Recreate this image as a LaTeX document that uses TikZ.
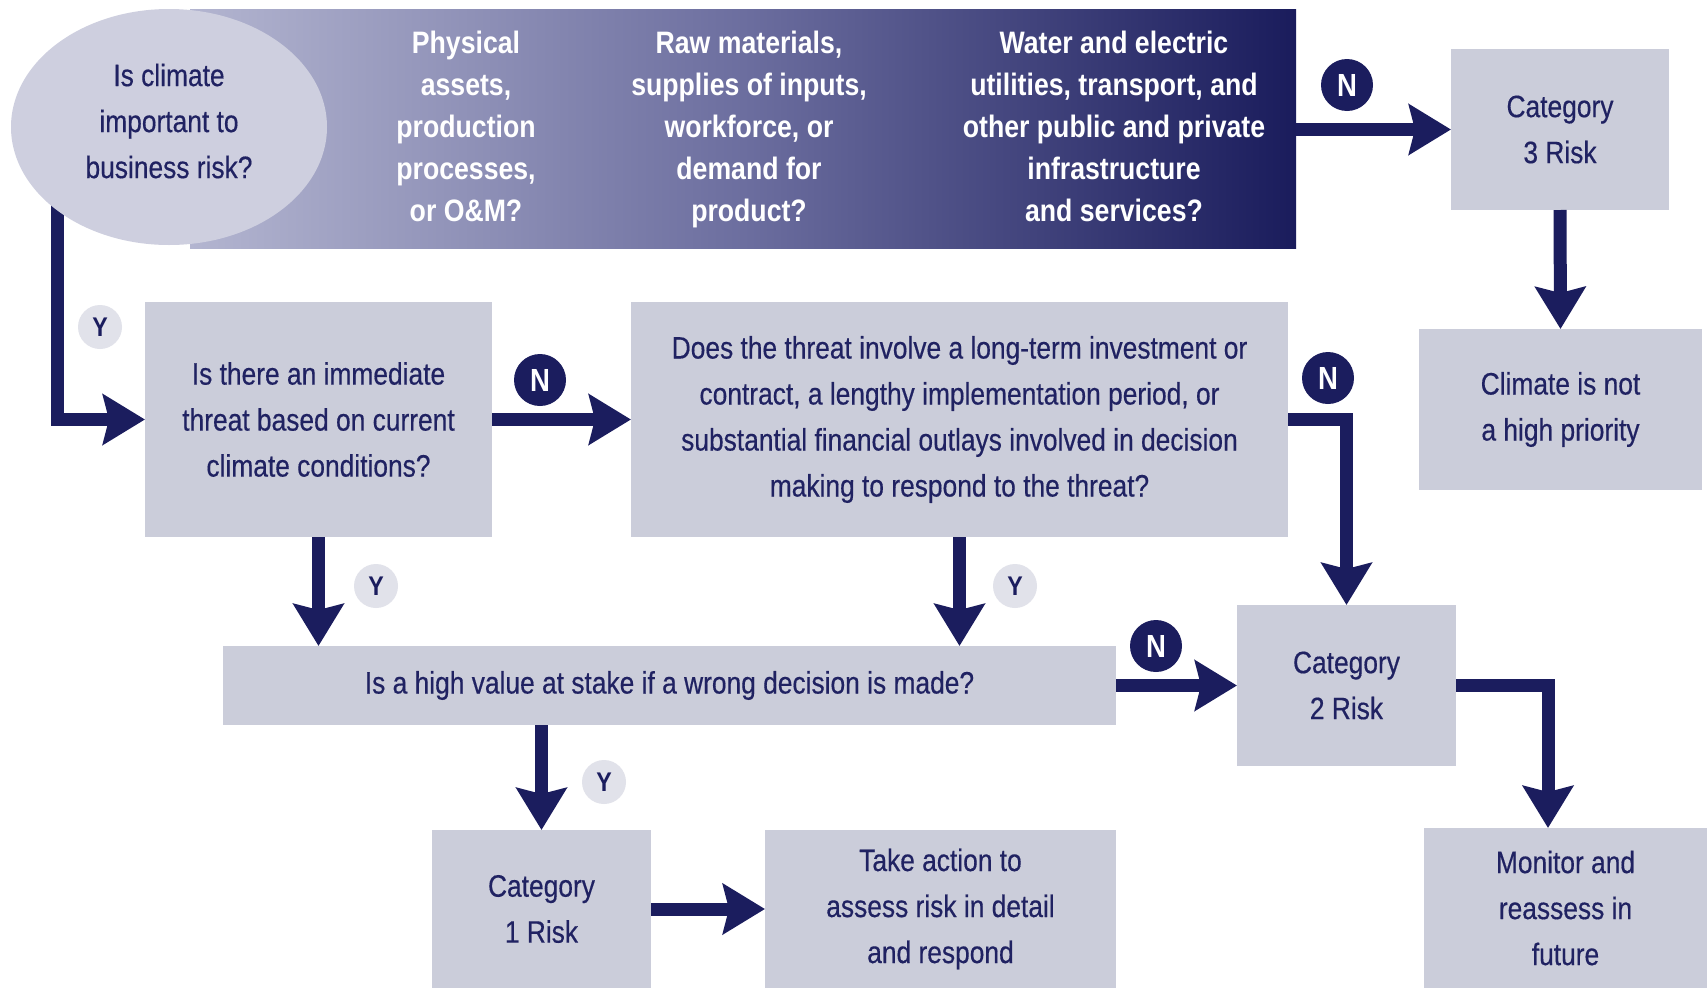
\documentclass[tikz,border=0pt]{standalone}
\usepackage{fontspec}
\setmainfont{Liberation Sans}[FakeStretch=0.86]
\newfontfamily\boxfont{Liberation Sans}[FakeStretch=0.85, FakeBold=0.4]
\usetikzlibrary{shapes.geometric,arrows.meta}
\definecolor{navy}{HTML}{1B1D5E}
\definecolor{boxgray}{HTML}{CBCDDA}
\definecolor{txt}{HTML}{202262}
\definecolor{ygray}{HTML}{E1E2EA}
\definecolor{ellfill}{HTML}{CECFDF}
\definecolor{bannerL}{HTML}{B3B5D0}
\definecolor{bannerM}{HTML}{6C6E9F}
\definecolor{bannerR}{HTML}{1A1C5C}
\pgfdeclarelayer{bg}
\pgfsetlayers{bg,main}
\begin{document}
\begin{tikzpicture}[x=1pt,y=-1pt,
  box/.style={fill=boxgray, text=txt, align=center, inner sep=0pt, outer sep=0pt,
    font=\boxfont\fontsize{31}{46}\selectfont},
  btext/.style={text=white, align=center, inner sep=0pt,
    font=\fontsize{31}{42}\selectfont\bfseries},
  conn/.style={draw=navy, line width=13pt, line join=miter,
    -{Stealth[length=42pt,width=50pt,inset=6pt]}},
  nlab/.style={circle, fill=navy, text=white, inner sep=0pt, minimum size=52pt,
    font=\fontsize{32}{32}\selectfont\bfseries},
  ylab/.style={circle, fill=ygray, text=navy, inner sep=0pt, minimum size=44pt,
    font=\fontsize{27}{27}\selectfont\bfseries}
]
\useasboundingbox (0,0) rectangle (1707,988);

% background and banner
\begin{pgfonlayer}{bg}
\fill[white] (0,0) rectangle (1707,988);
\node[inner sep=0pt, outer sep=0pt, minimum width=1106pt, minimum height=239pt,
  left color=bannerL, right color=bannerR, middle color=bannerM] (banner) at (743,128.5) {};
\end{pgfonlayer}
\node[btext] (bt1) at (466,126) {Physical\\assets,\\production\\processes,\\or O\&M?};
\node[btext] (bt2) at (749,129) {Raw materials,\\supplies of inputs,\\workforce, or\\demand for\\product?};
\node[btext] (bt3) at (1114,126) {Water and electric\\utilities, transport, and\\other public and private\\infrastructure\\and services?};

% ellipse
\node[ellipse, fill=ellfill, inner sep=0pt, outer sep=0pt,
  minimum width=316pt, minimum height=236pt] (ell) at (169,127) {};
\node[text=txt, align=center, inner sep=0pt, font=\boxfont\fontsize{31}{46}\selectfont]
  (elltext) at (169,121) {Is climate\\important to\\business risk?};

% boxes
\node[box, minimum width=218pt, minimum height=161pt] (cat3) at (1560,129.5) {Category\\3 Risk};
\node[box, minimum width=283pt, minimum height=161pt] (clim) at (1560.5,409.5) {Climate is not\\a high priority};
\node[box, minimum width=347pt, minimum height=235pt] (q1) at (318.5,419.5) {Is there an immediate\\threat based on current\\climate conditions?};
\node[box, minimum width=657pt, minimum height=235pt] (q2) at (959.5,419.5) {Does the threat involve a long-term investment or\\contract, a lengthy implementation period, or\\substantial financial outlays involved in decision\\making to respond to the threat?};
\node[box, minimum width=893pt, minimum height=79pt] (bar) at (669.5,685.5) {Is a high value at stake if a wrong decision is made?};
\node[box, minimum width=219pt, minimum height=161pt] (cat2) at (1346.5,685.5) {Category\\2 Risk};
\node[box, minimum width=219pt, minimum height=158pt] (cat1) at (541.5,909) {Category\\1 Risk};
\node[box, minimum width=351pt, minimum height=158pt] (take) at (940.5,909) {Take action to\\assess risk in detail\\and respond};
\node[box, minimum width=283pt, minimum height=160pt] (mon) at (1565.5,908) {Monitor and\\reassess in\\future};
\coordinate (monin) at (1548,828);

% connectors
\begin{pgfonlayer}{bg}
\draw[conn] ([yshift=15pt]ell.south west) |- (q1.west);
\end{pgfonlayer}
\draw[conn] (banner.east |- cat3.west) -- (cat3.west);
\draw[conn] (cat3.south) -- (clim.north);
\draw[conn] (q1.east) -- (q2.west);
\draw[conn] (q2.east) -| (cat2.north);
\draw[conn] (q1.south) -- (q1.south |- bar.north);
\draw[conn] (q2.south) -- (q2.south |- bar.north);
\draw[conn] (bar.east) -- (cat2.west);
\draw[conn] (cat1.north |- bar.south) -- (cat1.north);
\draw[conn] (cat1.east) -- (take.west);
\draw[conn] (cat2.east) -| (monin);

% labels
\node[nlab] (n1) at (1347,85) {N};
\node[nlab] (n2) at (540,380) {N};
\node[nlab] (n3) at (1328,378) {N};
\node[nlab] (n4) at (1156,646) {N};
\node[ylab] (y1) at (100,327) {Y};
\node[ylab] (y2) at (376,586) {Y};
\node[ylab] (y3) at (1015,586) {Y};
\node[ylab] (y4) at (604,782) {Y};
\end{tikzpicture}
\end{document}
